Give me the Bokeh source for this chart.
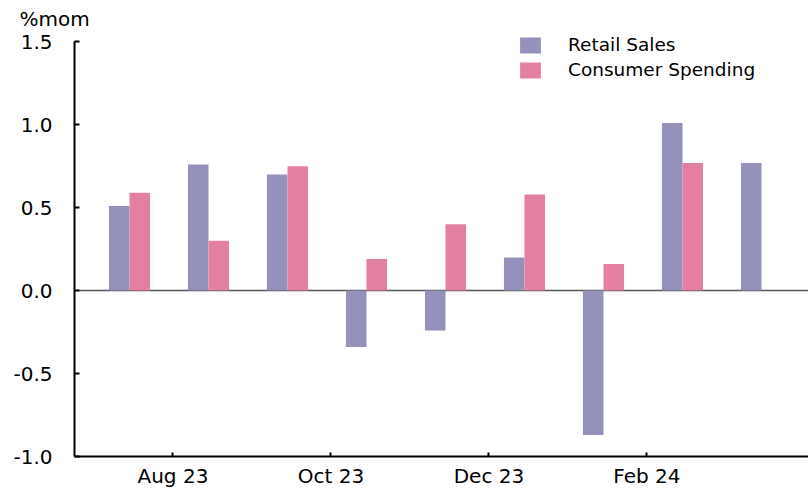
from bokeh.plotting import figure
from bokeh.models import (Range1d, FixedTicker, PrintfTickFormatter, Span,
                          Legend, LegendItem, ColumnDataSource)
from bokeh.transform import dodge
from bokeh.embed import file_html
from bokeh.resources import INLINE

# ---- data ----
months = ["Jul 23", "Aug 23", "Sep 23", "Oct 23", "Nov 23", "Dec 23", "Jan 24", "Feb 24", "Mar 24"]
retail_sales = [0.51, 0.76, 0.70, -0.34, -0.24, 0.20, -0.87, 1.01, 0.77]
consumer_spending = [0.59, 0.30, 0.75, 0.19, 0.40, 0.58, 0.16, 0.77, None]
labelled_months = ["Aug 23", "Oct 23", "Dec 23", "Feb 24"]
y_ticks = [-1.0, -0.5, 0.0, 0.5, 1.0, 1.5]
y_unit = "%mom"

BLUE = "#9491BB"
PINK = "#E380A2"
FONT = "DejaVu Sans"

idx = list(range(len(months)))
src_rs = ColumnDataSource(dict(x=idx, v=retail_sales))
cs_idx = [i for i, v in zip(idx, consumer_spending) if v is not None]
cs_val = [v for v in consumer_spending if v is not None]
src_cs = ColumnDataSource(dict(x=cs_idx, v=cs_val))

p = figure(width=808, height=491, output_backend="svg", toolbar_location=None,
           x_range=Range1d(-0.696, 8.595), y_range=Range1d(-1.0, 1.55),
           min_border_left=74, min_border_right=0, min_border_top=33, min_border_bottom=35)
p.outline_line_color = None
p.grid.visible = False
p.background_fill_color = "white"
p.border_fill_color = "white"

p.title.text = y_unit
p.title.align = "left"
p.title.offset = -55
p.title.text_font = FONT
p.title.text_font_size = "20px"
p.title.text_font_style = "normal"
p.title.text_color = "black"
p.title.standoff = 6

p.add_layout(Span(location=0, dimension="width", line_color="#555555",
                  line_width=1.5, level="underlay"))

bw = 0.26
r1 = p.vbar(x=dodge("x", -bw / 2, range=p.x_range), top="v", bottom=0, width=bw,
            source=src_rs, fill_color=BLUE, line_color=None)
r2 = p.vbar(x=dodge("x", bw / 2, range=p.x_range), top="v", bottom=0, width=bw,
            source=src_cs, fill_color=PINK, line_color=None)

# y axis
ya = p.yaxis[0]
ya.ticker = FixedTicker(ticks=y_ticks)
ya.bounds = (y_ticks[0], y_ticks[-1])
ya.formatter = PrintfTickFormatter(format="%.1f")
ya.major_tick_in = 5
ya.major_tick_out = 0
ya.minor_tick_line_color = None
ya.axis_line_width = 2
ya.axis_line_color = "black"
ya.major_tick_line_width = 2
ya.major_tick_line_color = "black"
ya.major_label_text_font = FONT
ya.major_label_text_font_size = "20px"
ya.major_label_text_color = "black"
ya.major_label_standoff = 22

# x axis
xa = p.xaxis[0]
tick_pos = [months.index(m) - 0.45 for m in labelled_months]
xa.ticker = FixedTicker(ticks=tick_pos)
xa.major_label_overrides = {t: m for t, m in zip(tick_pos, labelled_months)}
xa.major_tick_in = 4
xa.major_tick_out = 0
xa.minor_tick_line_color = None
xa.axis_line_width = 2
xa.axis_line_color = "black"
xa.major_tick_line_width = 2
xa.major_tick_line_color = "black"
xa.major_label_text_font = FONT
xa.major_label_text_font_size = "20px"
xa.major_label_text_color = "black"
xa.major_label_standoff = 7

legend = Legend(items=[LegendItem(label="Retail Sales", renderers=[r1]),
                       LegendItem(label="Consumer Spending", renderers=[r2])],
                location=(443, 376), padding=0, margin=0, spacing=4,
                glyph_width=26, glyph_height=20, label_standoff=25,
                label_text_font=FONT, label_text_font_size="18.5px",
                label_text_color="black",
                border_line_color=None, background_fill_alpha=0)
p.add_layout(legend)

open("out.html", "w").write(file_html(p, INLINE))
